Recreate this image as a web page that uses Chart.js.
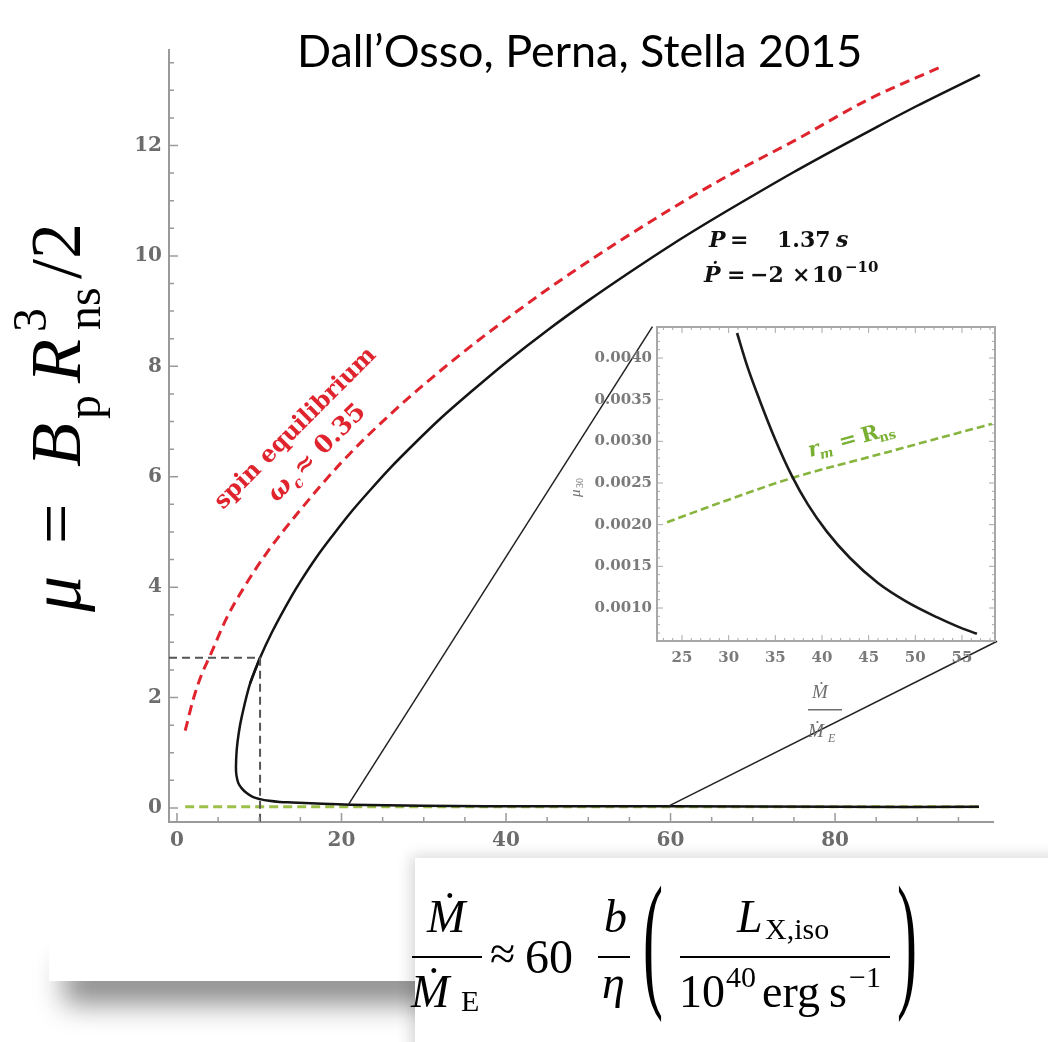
<!DOCTYPE html>
<html>
<head>
<meta charset="utf-8">
<title>Dall’Osso, Perna, Stella 2015</title>
<script src="https://cdn.jsdelivr.net/npm/chart.js@4.4.1/dist/chart.umd.min.js"></script>
<style>
  html, body { margin: 0; padding: 0; background: #fff; }
  body { position: relative; width: 1048px; height: 1042px; overflow: hidden; }
  #shade { position: absolute; left: 64px; top: 962px; width: 1000px; height: 42px;
           background: rgba(0,0,0,0.45); filter: blur(14px); }
  #card { position: absolute; left: 49px; top: -80px; width: 1200px; height: 1061px; background: #fff; }
  #main { position: absolute; left: 0; top: 0; }
  #inset { position: absolute; left: 560px; top: 317px; }
</style>
</head>
<body>
<div id="shade"></div>
<div id="card"></div>
<canvas id="main" width="1048" height="1042"></canvas>
<canvas id="inset" width="445" height="440"></canvas>
<script>
// ---------- main panel: labelled ticks ----------
const xTickVals = [0, 20, 40, 60, 80];
const yTickVals = [0, 2, 4, 6, 8, 10, 12];

// magnetic moment solution for P = 1.37 s, Pdot = -2e-10 (mu30 vs Mdot/Mdot_E)
// lower branch, running in to the turning point
const muLowerX = [97.5, 80, 60, 45, 30, 21, 17, 14, 12.5, 11.2, 10.1, 9.2, 8.47, 7.9, 7.46, 7.22, 7.17, 7.26, 7.5, 7.87, 8.9, 10.1];
const muLowerY = [0.02, 0.02, 0.03, 0.03, 0.04, 0.06, 0.08, 0.10, 0.11, 0.13, 0.16, 0.20, 0.27, 0.35, 0.45, 0.60, 0.75, 1.05, 1.35, 1.65, 2.26, 2.72];
// upper branch
const muUpperX = [8.9, 10.1, 11.5, 13.9, 15, 17, 19, 21, 23.5, 26, 29, 32, 36, 40, 45, 50, 55, 60, 65, 70, 75, 80, 85, 90, 97.6];
const muUpperY = [2.26, 2.72, 3.17, 3.83, 4.10, 4.55, 4.95, 5.33, 5.76, 6.17, 6.62, 7.05, 7.57, 8.07, 8.65, 9.19, 9.70, 10.19, 10.65, 11.09, 11.52, 11.93, 12.33, 12.72, 13.28];

// spin equilibrium, omega_c ~ 0.35
const spinX = [1, 2, 3, 4, 6, 8, 11, 15, 20, 26, 33, 40, 48, 57, 66, 75.7, 84, 92.8];
const spinY = [1.40, 1.98, 2.42, 2.75, 3.43, 3.96, 4.64, 5.40, 6.26, 7.14, 8.04, 8.85, 9.70, 10.57, 11.37, 12.14, 12.83, 13.42];

// r_m = R_ns
const rmX = [1, 97.6];
const rmY = [0.02, 0.02];

// reference point on the solution
const guideX = [-0.97, 10.1, 10.1];
const guideY = [2.72, 2.72, -0.25];

// connectors towards the magnified panel
const zoomLoX = [20.8, 57.8];
const zoomLoY = [0.05, 8.72];
const zoomHiX = [59.7, 99.7];
const zoomHiY = [0.03, 3.02];

// ---------- magnified panel ----------
const insetXTickVals = [25, 30, 35, 40, 45, 50, 55];
const insetYTickVals = [0.0010, 0.0015, 0.0020, 0.0025, 0.0030, 0.0035, 0.0040];
const insetMuX = [30.9, 32, 33.3, 35, 36.8, 38.5, 40.5, 43, 46, 49, 52.3, 54.5, 56.6];
const insetMuY = [0.00430, 0.00390, 0.00350, 0.00302, 0.00258, 0.00224, 0.00192, 0.00160, 0.00130, 0.00108, 0.00089, 0.00078, 0.00069];
const insetRmX = [23.4, 30, 36.8, 47, 58.2];
const insetRmY = [0.00203, 0.00230, 0.00256, 0.00287, 0.00321];

const pts = (xs, ys) => xs.map((x, i) => ({ x, y: ys[i] }));
const SERIF = "'Liberation Serif', 'Times New Roman', serif";
const DV = "'DejaVu Serif', serif";

function line(data, color, width, dash, extra) {
  return Object.assign({ data, borderColor: color, borderWidth: width, borderDash: dash || [],
    pointRadius: 0, fill: false, tension: 0.35 }, extra || {});
}

function put(ctx, parts) {
  for (const [t, font, x, y] of parts) { ctx.font = font; ctx.fillText(t, x, y); }
}

// inward tick marks on the main axes
const mainTicks = {
  id: 'mainTicks',
  afterDraw(chart) {
    const { ctx, chartArea: a, scales: { x, y } } = chart;
    ctx.save();
    ctx.strokeStyle = '#9a9a9a';
    ctx.lineWidth = 1.5;
    ctx.beginPath();
    for (let v = 0; v <= 95; v += 5) {
      const px = x.getPixelForValue(v);
      const len = v % 20 === 0 ? 9 : 5;
      ctx.moveTo(px, a.bottom); ctx.lineTo(px, a.bottom - len);
    }
    for (let k = 0; k <= 27; k++) {
      const py = y.getPixelForValue(k * 0.5);
      const len = k % 4 === 0 ? 9 : 5;
      ctx.moveTo(a.left, py); ctx.lineTo(a.left + len, py);
    }
    ctx.stroke();
    ctx.restore();
  }
};

// titles, axis labels and in-plot notes
const mainNotes = {
  id: 'mainNotes',
  afterDraw(chart) {
    const ctx = chart.ctx;
    ctx.save();
    ctx.textBaseline = 'alphabetic';
    ctx.textAlign = 'left';

    // title
    ctx.fillStyle = '#000';
    const title = 'Dall\u2019Osso, Perna, Stella 2015';
    ctx.font = "40px Lato";
    const tw = ctx.measureText(title).width;
    ctx.font = (40 * 565 / tw).toFixed(1) + "px Lato";
    ctx.fillText(title, 297, 67);

    // vertical axis label
    ctx.save();
    ctx.translate(80, 0);
    ctx.rotate(-Math.PI / 2);
    put(ctx, [
      ['\u03bc', 'italic 72px ' + SERIF, -612, 0],
      ['=', '72px ' + SERIF, -544, 0],
      ['B', 'italic 72px ' + SERIF, -467, 0],
      ['p', '48px ' + SERIF, -419, 20],
      ['R', 'italic 72px ' + SERIF, -383, 0],
      ['3', '48px ' + SERIF, -332, -34],
      ['ns', '48px ' + SERIF, -330, 20],
      ['/2', '72px ' + SERIF, -279, 0]
    ]);
    ctx.restore();

    // period note
    ctx.fillStyle = '#111';
    put(ctx, [
      ['P', 'italic bold 22px ' + DV, 709, 247],
      ['=', 'bold 22px ' + DV, 730, 247],
      ['1.37', 'bold 22px ' + DV, 777, 247],
      ['s', 'italic bold 22px ' + DV, 836, 247],
      ['\u1e56', 'italic bold 22px ' + DV, 704, 282],
      ['=', 'bold 22px ' + DV, 727, 282],
      ['\u22122', 'bold 22px ' + DV, 750, 282],
      ['\u00d7', 'bold 22px ' + DV, 792, 282],
      ['10', 'bold 22px ' + DV, 812, 282],
      ['\u221210', 'bold 15px ' + DV, 845, 272]
    ]);

    // spin equilibrium note
    ctx.save();
    ctx.fillStyle = '#e0242e';
    ctx.translate(223, 510);
    ctx.rotate(-Math.PI / 4);
    const spin = 'spin equilibrium';
    ctx.font = 'bold 22px ' + DV;
    const sw = ctx.measureText(spin).width;
    ctx.font = 'bold ' + (22 * 218 / sw).toFixed(1) + 'px ' + DV;
    ctx.fillText(spin, 0, 0);
    ctx.font = 'italic bold 25px ' + DV;
    const ww = ctx.measureText('\u03c9').width;
    put(ctx, [
      ['\u03c9', 'italic bold 25px ' + DV, 43, 33],
      ['c', 'italic bold 15px ' + DV, 44 + ww, 39],
      ['\u2248 0.35', 'bold 25px ' + DV, 56 + ww, 33]
    ]);
    ctx.restore();

    // r_m = R_ns note
    ctx.save();
    ctx.fillStyle = '#79b034';
    ctx.translate(810, 457);
    ctx.rotate(-15 * Math.PI / 180);
    put(ctx, [
      ['r', 'italic bold 21px ' + DV, 0, 0],
      ['m', 'italic bold 13px ' + DV, 10, 5],
      ['=', 'bold 21px ' + DV, 32, 0],
      ['R', 'bold 21px ' + DV, 55, 0],
      ['ns', 'bold 13px ' + DV, 72, 4]
    ]);
    ctx.restore();

    // accretion-rate relation box
    ctx.save();
    ctx.shadowColor = 'rgba(0,0,0,0.16)';
    ctx.shadowBlur = 14;
    ctx.shadowOffsetX = -4;
    ctx.shadowOffsetY = -2;
    ctx.fillStyle = '#fff';
    ctx.fillRect(415, 858, 700, 220);
    ctx.restore();

    ctx.fillStyle = '#000';
    put(ctx, [
      ['\u1e40', 'italic 46px ' + SERIF, 427, 932],
      ['\u1e40', 'italic 46px ' + SERIF, 411, 1007],
      ['E', '30px ' + SERIF, 461, 1011],
      ['\u2248', '46px ' + SERIF, 490, 969],
      ['60', '48px ' + SERIF, 525, 973],
      ['b', 'italic 46px ' + SERIF, 604, 932],
      ['\u03b7', 'italic 46px ' + SERIF, 602, 998],
      ['L', 'italic 46px ' + SERIF, 737, 932],
      ['X,iso', '30px ' + SERIF, 765, 939],
      ['10', '46px ' + SERIF, 679, 1007],
      ['40', '30px ' + SERIF, 726, 987],
      ['erg', '46px ' + SERIF, 762, 1007],
      ['s', '46px ' + SERIF, 829, 1007],
      ['\u22121', '30px ' + SERIF, 849, 987]
    ]);
    ctx.fillRect(412, 956, 70, 2);
    ctx.fillRect(598, 956, 32, 2);
    ctx.fillRect(680, 956, 210, 2);
    for (const [ch, px] of [['(', 643], [')', 897]]) {
      ctx.save();
      ctx.translate(px, 957);
      ctx.scale(1, 2.5);
      ctx.font = '60px ' + SERIF;
      ctx.fillText(ch, 0, 13);
      ctx.restore();
    }
    ctx.restore();
  }
};

const tickFont = { family: 'DejaVu Serif', size: 20, weight: 'bold' };

new Chart(document.getElementById('main'), {
  type: 'line',
  data: {
    datasets: [
      line(pts(guideX, guideY), '#555', 2, [8, 5], { tension: 0 }),
      line(pts(zoomLoX, zoomLoY), '#222', 1.5, [], { tension: 0, clip: false }),
      line(pts(zoomHiX, zoomHiY), '#222', 1.5, [], { tension: 0, clip: false }),
      line(pts(muLowerX, muLowerY), '#141414', 2.5, [], { tension: 0.35 }),
      line(pts(muUpperX, muUpperY), '#141414', 2.5, [], { cubicInterpolationMode: 'monotone' }),
      line(pts(spinX, spinY), '#e0242e', 3, [10, 6], { cubicInterpolationMode: 'monotone' }),
      line(pts(rmX, rmY), '#9cc04a', 3, [9, 5], { tension: 0 })
    ]
  },
  options: {
    responsive: false,
    animation: false,
    devicePixelRatio: 1,
    parsing: false,
    layout: { padding: { top: 50, right: 55, left: 0, bottom: 0 } },
    plugins: { legend: { display: false }, tooltip: { enabled: false } },
    scales: {
      x: {
        type: 'linear', min: -0.97, max: 99.2,
        afterFit(s) { s.height = 220; s.paddingLeft = 0; s.paddingRight = 0; },
        afterBuildTicks(s) { s.ticks = xTickVals.map(v => ({ value: v })); },
        grid: { display: false, drawTicks: false },
        border: { display: true, color: '#9a9a9a', width: 2 },
        ticks: { font: tickFont, color: '#6c6c6c', padding: 7, maxRotation: 0 }
      },
      y: {
        type: 'linear', min: -0.254, max: 13.73,
        afterFit(s) { s.width = 169; s.paddingTop = 0; s.paddingBottom = 0; },
        afterBuildTicks(s) { s.ticks = yTickVals.map(v => ({ value: v })); },
        grid: { display: false, drawTicks: false },
        border: { display: true, color: '#9a9a9a', width: 2 },
        ticks: { font: tickFont, color: '#6c6c6c', padding: 7 }
      }
    }
  },
  plugins: [mainTicks, mainNotes]
});

// frame, ticks and labels of the magnified panel
const insetFrame = {
  id: 'insetFrame',
  afterDraw(chart) {
    const { ctx, chartArea: a, scales: { x, y } } = chart;
    ctx.save();
    ctx.strokeStyle = '#a8a8a8';
    ctx.lineWidth = 1;
    ctx.beginPath();
    for (let v = 23; v <= 58; v += 1) {
      const px = x.getPixelForValue(v);
      const len = v % 5 === 0 ? 6 : 3;
      ctx.moveTo(px, a.bottom); ctx.lineTo(px, a.bottom - len);
      ctx.moveTo(px, a.top); ctx.lineTo(px, a.top + len);
    }
    for (let k = 7; k <= 43; k++) {
      const py = y.getPixelForValue(k * 0.0001);
      const len = k % 5 === 0 ? 6 : 3;
      ctx.moveTo(a.left, py); ctx.lineTo(a.left + len, py);
      ctx.moveTo(a.right, py); ctx.lineTo(a.right - len, py);
    }
    ctx.stroke();
    ctx.lineWidth = 2;
    ctx.strokeRect(a.left, a.top, a.right - a.left, a.bottom - a.top);

    ctx.fillStyle = '#6f6f6f';
    ctx.textBaseline = 'alphabetic';
    put(ctx, [
      ['\u1e40', 'italic 19px ' + SERIF, 252, 381],
      ['\u1e40', 'italic 19px ' + SERIF, 248, 420],
      ['E', 'italic 12px ' + SERIF, 268, 425]
    ]);
    ctx.fillRect(248, 392, 34, 1.5);
    ctx.save();
    ctx.translate(20, 180);
    ctx.rotate(-Math.PI / 2);
    put(ctx, [
      ['\u03bc', 'italic 15px ' + SERIF, 0, 0],
      ['30', '10px ' + SERIF, 9, 3]
    ]);
    ctx.restore();
    ctx.restore();
  }
};

const insetFont = { family: 'DejaVu Serif', size: 15, weight: 'bold' };

new Chart(document.getElementById('inset'), {
  type: 'line',
  data: {
    datasets: [
      line(pts(insetMuX, insetMuY), '#1a1a1a', 2.6, [], { cubicInterpolationMode: 'monotone' }),
      line(pts(insetRmX, insetRmY), '#86b43c', 2.6, [8, 4], { cubicInterpolationMode: 'monotone' })
    ]
  },
  options: {
    responsive: false,
    animation: false,
    devicePixelRatio: 1,
    parsing: false,
    layout: { padding: { top: 10, right: 10, left: 0, bottom: 0 } },
    plugins: { legend: { display: false }, tooltip: { enabled: false } },
    scales: {
      x: {
        type: 'linear', min: 22.32, max: 58.54,
        afterFit(s) { s.height = 116; s.paddingLeft = 0; s.paddingRight = 0; },
        afterBuildTicks(s) { s.ticks = insetXTickVals.map(v => ({ value: v })); },
        grid: { display: false, drawTicks: false },
        border: { display: false },
        ticks: { font: insetFont, color: '#7a7a7a', padding: 8, maxRotation: 0 }
      },
      y: {
        type: 'linear', min: 0.000604, max: 0.004372,
        afterFit(s) { s.width = 97; s.paddingTop = 0; s.paddingBottom = 0; },
        afterBuildTicks(s) { s.ticks = insetYTickVals.map(v => ({ value: v })); },
        grid: { display: false, drawTicks: false },
        border: { display: false },
        ticks: { font: insetFont, color: '#7a7a7a', padding: 5, callback: v => v.toFixed(4) }
      }
    }
  },
  plugins: [insetFrame]
});
</script>
</body>
</html>
